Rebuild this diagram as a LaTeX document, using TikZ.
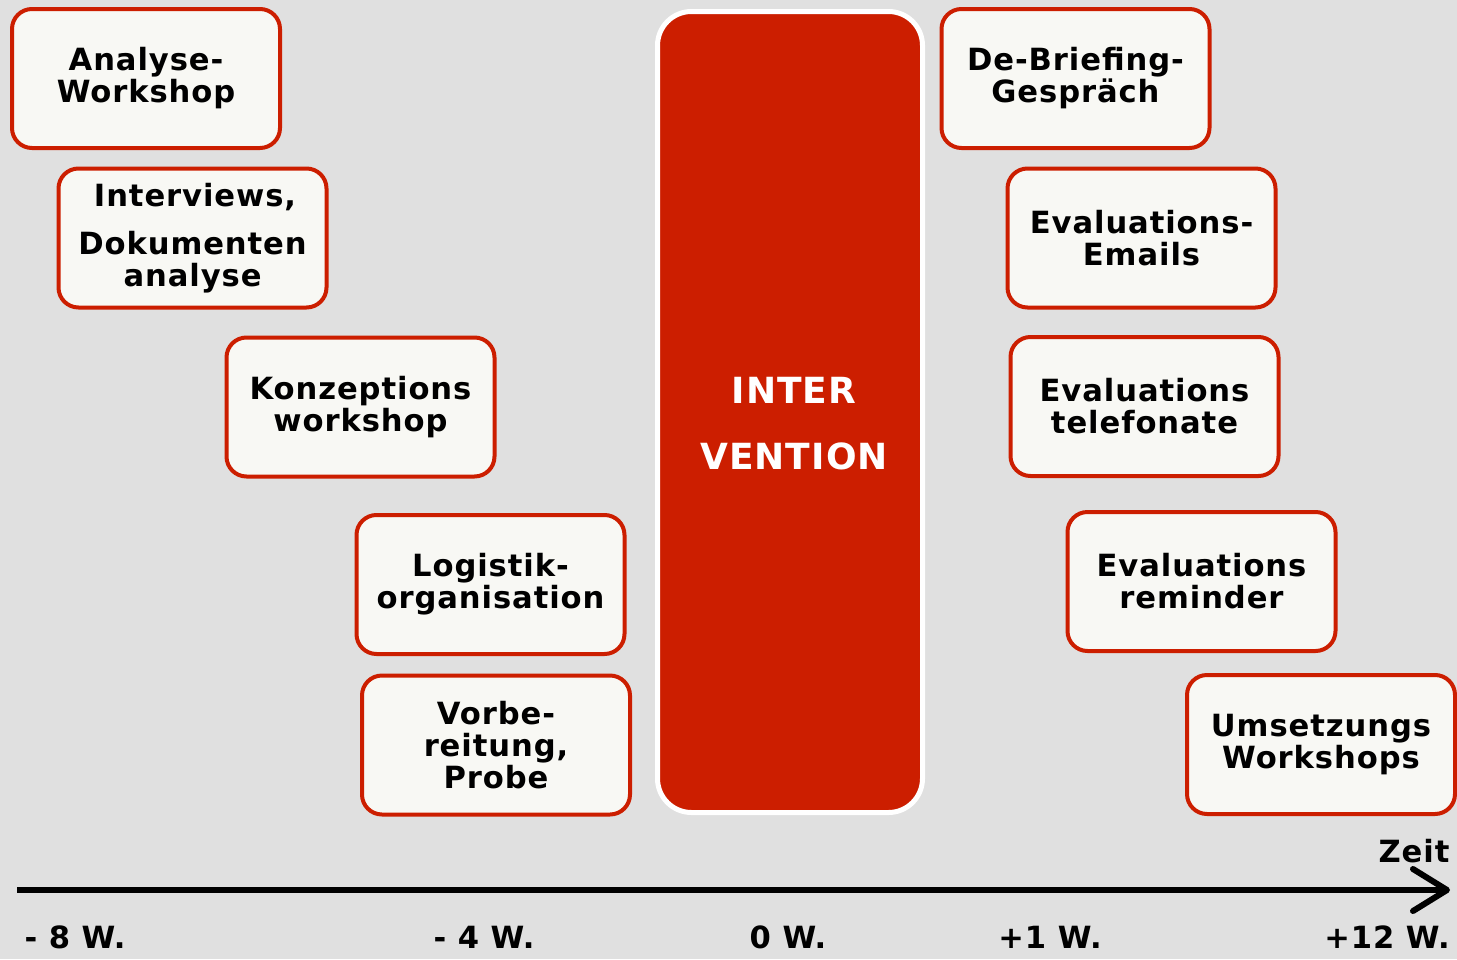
\documentclass[tikz,border=0pt]{standalone}
\usepackage{fontspec}
\setmainfont[LetterSpace=3]{DejaVu Sans}
\usetikzlibrary{arrows.meta}
\definecolor{bggray}{HTML}{E0E0E0}
\definecolor{phasered}{HTML}{CC1E00}
\definecolor{phasefill}{HTML}{F8F8F4}
\tikzset{
  phase/.style={draw=phasered, fill=phasefill, line width=2pt, rounded corners=10pt,
    minimum width=134pt, minimum height=69.5pt, inner sep=0pt, align=center,
    font=\fontsize{15.3}{16}\selectfont\bfseries},
  week/.style={anchor=base, font=\fontsize{15.3}{16}\selectfont\bfseries},
}
\begin{document}
\begin{tikzpicture}[x=0.5pt,y=-0.5pt]
\useasboundingbox[fill=bggray] (0,0) rectangle (1457,959); %background
% before the intervention
\node[phase] (analyse) at (146,78.5) {Analyse-\\Workshop};
\node[phase] (interviews) at (192.5,238) {\,Interviews,\\[8pt]Dokumenten\\analyse};
\node[phase] (konzeption) at (360.5,407) {Konzeptions\\workshop};
\node[phase] (logistik) at (490.5,584.5) {Logistik-\\organisation};
\node[phase] (vorbereitung) at (496,745) {Vorbe-\\reitung,\\Probe};
% intervention
\node[draw=white, fill=phasered, line width=2.5pt, rounded corners=17pt,
  minimum width=132.5pt, minimum height=400.5pt] (intervention) at (790,412) {};
\node[align=center, text=white, font=\fontsize{18}{18}\selectfont\bfseries]
  (intervtext) at (794,424) {INTER\\[15pt]VENTION};
% after the intervention
\node[phase] (debriefing) at (1075.5,78.5) {De-Briefing-\\Gespräch};
\node[phase] (emails) at (1141.5,238) {Evaluations-\\Emails};
\node[phase] (telefonate) at (1144.5,406.5) {Evaluations\\telefonate};
\node[phase] (reminder) at (1201.5,581.5) {Evaluations\\reminder};
\node[phase] (umsetzung) at (1321,744.5) {Umsetzungs\\Workshops};
% time axis
\coordinate (start) at (17,890);
\coordinate (end) at (1450,890);
\draw[line width=3pt, -{Straight Barb[length=17pt, width=21pt, round]}] (start) -- (end); %axis
\node[week] (zeit) at (1414,862) {Zeit};
\node[week] (w8) at (75,948) {- 8 W.};
\node[week] (w4) at (484,948) {- 4 W.};
\node[week] (w0) at (788,948) {0 W.};
\node[week] (w1) at (1050,948) {+1 W.};
\node[week] (w12) at (1387,948) {+12 W.};
\end{tikzpicture}
\end{document}
